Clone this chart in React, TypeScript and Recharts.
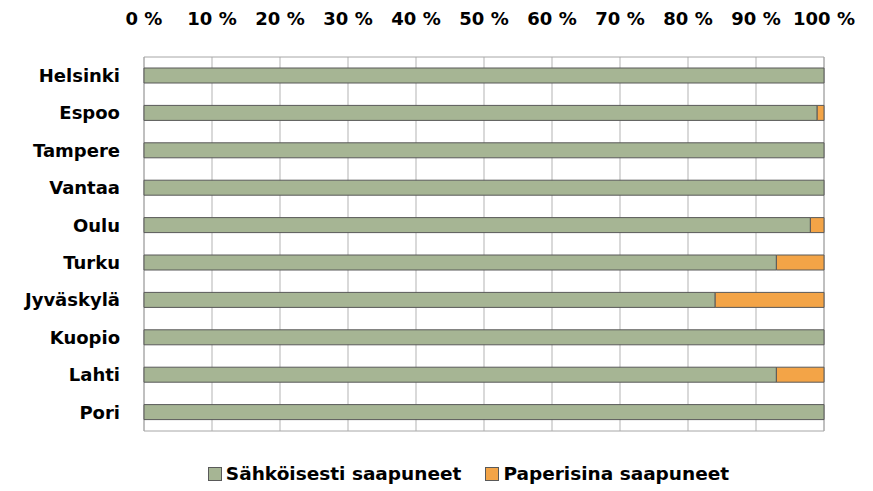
import { BarChart, Bar, XAxis, YAxis, CartesianGrid, Legend, ReferenceArea } from 'recharts'

const CITIES = ['Helsinki', 'Espoo', 'Tampere', 'Vantaa', 'Oulu', 'Turku', 'Jyväskylä', 'Kuopio', 'Lahti', 'Pori']
const ELECTRONIC = [100, 99, 100, 100, 98, 93, 84, 100, 93, 100]
const PAPER = [0, 1, 0, 0, 2, 7, 16, 0, 7, 0]
const TICKS = [0, 10, 20, 30, 40, 50, 60, 70, 80, 90, 100]
const SERIES_ORDER = ['Sähköisesti saapuneet', 'Paperisina saapuneet']

const GREEN = '#A6B594'
const ORANGE = '#F3A447'
const FONT = '"DejaVu Sans", sans-serif'

const data = CITIES.map((city, i) => ({
  city,
  electronic: ELECTRONIC[i],
  paper: PAPER[i],
}))

function LegendContent({ payload }: any) {
  const items = [...(payload || [])].sort(
    (a: any, b: any) => SERIES_ORDER.indexOf(a.value) - SERIES_ORDER.indexOf(b.value)
  )
  return (
    <div style={{ display: 'flex', justifyContent: 'center', gap: 24, paddingLeft: 64, fontFamily: FONT, fontWeight: 'bold', fontSize: 18.5 }}>
      {items.map((p: any) => (
        <div key={p.value} style={{ display: 'flex', alignItems: 'center', gap: 4 }}>
          <span style={{ width: 12, height: 12, background: p.color, border: '1px solid #595959', display: 'inline-block' }} />
          <span style={{ color: '#000' }}>{p.value}</span>
        </div>
      ))}
    </div>
  )
}

export default function App() {
  return (
    <div style={{ width: 873, height: 491, background: '#fff' }}>
      <style>{'body{margin:0}'}</style>
      <BarChart
        width={873}
        height={491}
        data={data}
        layout="vertical"
        barSize={15}
        margin={{ top: 17, right: 49, bottom: 30, left: 0 }}
      >
        <CartesianGrid horizontal={false} stroke="#D9D9D9" strokeWidth={2} />
        <XAxis
          type="number"
          orientation="top"
          domain={[0, 100]}
          ticks={TICKS}
          height={40}
          axisLine={false}
          tickLine={false}
          tickMargin={26}
          tickFormatter={(v) => `${v} %`}
          tick={{ fontFamily: FONT, fontWeight: 'bold', fontSize: 18, fill: '#000' }}
        />
        <YAxis
          type="category"
          dataKey="city"
          width={144}
          axisLine={false}
          tickLine={false}
          tickMargin={18}
          tick={{ fontFamily: FONT, fontWeight: 'bold', fontSize: 18, fill: '#000' }}
        />
        <ReferenceArea x1={0} x2={100} fill="none" stroke="#A6A6A6" strokeWidth={1} ifOverflow="visible" />
        <Bar dataKey="electronic" name="Sähköisesti saapuneet" stackId="a" fill={GREEN} stroke="#595959" isAnimationActive={false} />
        <Bar dataKey="paper" name="Paperisina saapuneet" stackId="a" fill={ORANGE} stroke="#595959" isAnimationActive={false} />
        <Legend
          verticalAlign="bottom"
          height={30}
          content={<LegendContent />}
          wrapperStyle={{ top: 463, left: 0, width: 873 }}
        />
      </BarChart>
    </div>
  )
}
